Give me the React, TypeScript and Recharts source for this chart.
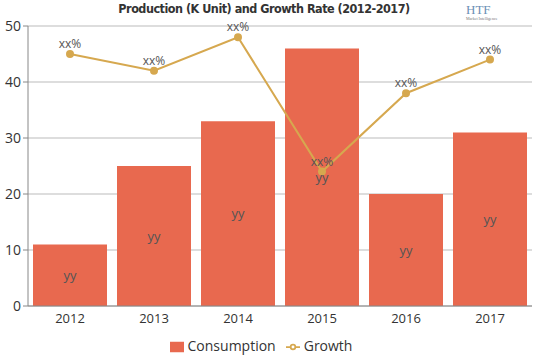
import {
  ComposedChart,
  Bar,
  Line,
  XAxis,
  YAxis,
  CartesianGrid,
  Legend,
  LabelList
} from "recharts";

const years = ["2012", "2013", "2014", "2015", "2016", "2017"];
const consumption = [11, 25, 33, 46, 20, 31];
const growth = [45, 42, 48, 24, 38, 44];
const barLabels = ["yy", "yy", "yy", "yy", "yy", "yy"];
const growthLabels = ["xx%", "xx%", "xx%", "xx%", "xx%", "xx%"];
const yTicks = [0, 10, 20, 30, 40, 50];

const data = years.map((y, i) => ({
  year: y,
  Consumption: consumption[i],
  Growth: growth[i],
  barLabel: barLabels[i],
  growthLabel: growthLabels[i],
}));

export default function App() {
  return (
    <div
      style={{
        position: "absolute",
        left: 0,
        top: 0,
        width: 539,
        height: 359,
        background: "#fff",
        fontFamily: "'Open Sans', sans-serif",
      }}
    >
      <div
        style={{
          position: "absolute",
          top: 1,
          left: 0,
          width: 528,
          textAlign: "center",
          fontFamily: "'DejaVu Sans Condensed', sans-serif",
          fontWeight: "bold",
          fontSize: 12.5,
          color: "#333",
          letterSpacing: -0.5,
        }}
      >
        Production (K Unit) and Growth Rate (2012-2017)
      </div>
      <div
        style={{
          position: "absolute",
          top: 2,
          left: 466,
          fontSize: 13,
          color: "#6b8fb5",
          fontFamily: "'Liberation Serif', serif",
        }}
      >
        HTF
        <div style={{ fontSize: 4, color: "#777", marginTop: -2 }}>
          Market Intelligence
        </div>
      </div>
      <ComposedChart
        width={539}
        height={359}
        data={data}
        margin={{ top: 26, right: 7, left: 0, bottom: 4 }}
        barCategoryGap={5}
      >
        <CartesianGrid vertical={false} stroke="#bbb" />
        <XAxis
          dataKey="year"
          stroke="#888"
          tick={{ fill: "#333", fontSize: 13 }}
          tickLine={false}
        />
        <YAxis
          width={28}
          domain={[0, 50]}
          ticks={yTicks}
          stroke="#888"
          tick={{ fill: "#333", fontSize: 14 }}
          tickSize={5}
          tickMargin={2}
        />
        <Legend
          verticalAlign="bottom"
          iconSize={14}
          wrapperStyle={{ fontSize: 14, color: "#333" }}
          formatter={(v: string) => <span style={{ color: "#333" }}>{v}</span>}
        />
        <Bar dataKey="Consumption" fill="#E8694F" isAnimationActive={false}>
          <LabelList
            dataKey="barLabel"
            position="center"
            fill="#555"
            fontSize={13}
          />
        </Bar>
        <Line
          dataKey="Growth"
          stroke="#D6A84F"
          strokeWidth={2}
          dot={{ r: 3, fill: "#D6A84F", stroke: "#D6A84F" }}
          isAnimationActive={false}
        >
          <LabelList
            dataKey="growthLabel"
            position="top"
            offset={6}
            fill="#555"
            fontSize={12}
          />
        </Line>
      </ComposedChart>
    </div>
  );
}
